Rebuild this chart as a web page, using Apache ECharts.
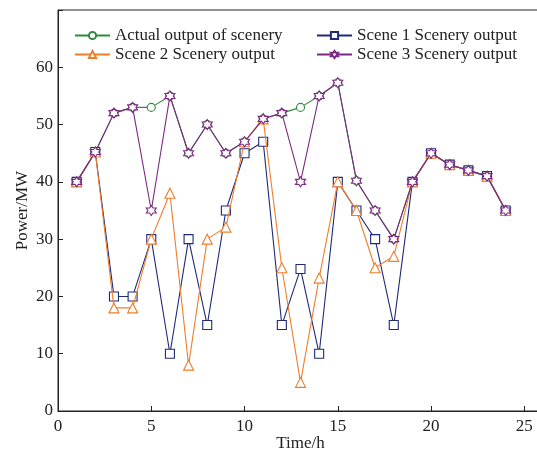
<!DOCTYPE html>
<html><head><meta charset="utf-8">
<script src="https://cdn.jsdelivr.net/npm/echarts@6/dist/echarts.min.js"></script>
<style>html,body{margin:0;padding:0;background:#fff}#c{width:537px;height:449px}</style>
</head><body><div id="c"></div>
<script>
const hours = [1,2,3,4,5,6,7,8,9,10,11,12,13,14,15,16,17,18,19,20,21,22,23,24];
const actual = [40,45.2,52,53,53,55,45,50,45,47,51,52,53,55,57.3,40.2,35,30,40,45,43,42,41,35];
const scene1 = [40,45.2,20,20,30,10,30,15,35,45,47,15,24.8,10,40,35,30,15,40,45,43,42,41,35];
const scene2 = [40,45.2,18,18,30,38,8,30,32.1,47,51,25,5,23.2,40,35,25,27,40,45,43,42,41,35];
const scene3 = [40,45.2,52,53,35,55,45,50,45,47,51,52,40,55,57.3,40.2,35,30,40,45,43,42,41,35];
const names = ['Actual output of scenery','Scene 1 Scenery output','Scene 2 Scenery output','Scene 3 Scenery output'];
const xTicks = [0,5,10,15,20,25];
const yTicks = [0,10,20,30,40,50,60];

const hexagram = 'path://M50,0L64.4,25L93.3,25L78.9,50L93.3,75L64.4,75L50,100L35.6,75L6.7,75L21.1,50L6.7,25L35.6,25Z';
const font = 'Liberation Serif';
function pairs(v){return hours.map((h,i)=>[h,v[i]]);}
function mk(name,data,color,symbol,size,z){
  return {name, type:'line', data:pairs(data), symbol, symbolSize:size, z,
    lineStyle:{color,width:1.1}, itemStyle:{color:'#fff',borderColor:color,borderWidth:1.1},
    color, emphasis:{disabled:true}, animation:false};
}
const chart = echarts.init(document.getElementById('c'));
chart.setOption({
  animation:false,
  backgroundColor:'#fff',
  grid:{left:58,top:10,width:485,height:401,show:true,borderColor:'#222',borderWidth:1,backgroundColor:'transparent',
    containLabel:false,outerBoundsMode:'none'},
  legend:[
    {data:[names[0],names[2]],orient:'vertical',left:74,top:27,padding:0,itemWidth:35,itemHeight:9,itemGap:2,
     textStyle:{fontFamily:font,fontSize:17,color:'#222'}},
    {data:[names[1],names[3]],orient:'vertical',left:316,top:27,padding:0,itemWidth:35,itemHeight:9,itemGap:2,
     textStyle:{fontFamily:font,fontSize:17,color:'#222'}}
  ],
  xAxis:{type:'value',min:0,max:26,interval:5,
    name:'Time/h',nameLocation:'middle',nameGap:24,nameMoveOverlap:false,
    nameTextStyle:{fontFamily:font,fontSize:17,color:'#222'},
    axisLine:{show:true,lineStyle:{color:'#222'}},
    axisTick:{show:true,inside:true,length:5,lineStyle:{color:'#222'}},
    axisLabel:{fontFamily:font,fontSize:17,color:'#222',margin:7,
      formatter:v=>xTicks.includes(v)?String(v):''},
    splitLine:{show:false}},
  yAxis:{type:'value',min:0,max:70,interval:10,
    name:'Power/MW',nameLocation:'middle',nameGap:27,nameMoveOverlap:false,
    nameTextStyle:{fontFamily:font,fontSize:17,color:'#222'},
    axisLine:{show:true,lineStyle:{color:'#222'}},
    axisTick:{show:true,inside:true,length:5,lineStyle:{color:'#222'}},
    axisLabel:{fontFamily:font,fontSize:17,color:'#222',margin:5,
      formatter:v=>yTicks.includes(v)?String(v):''},
    splitLine:{show:false}},
  series:[
    mk(names[0],actual,'#2e8b3e','circle',8,2),
    mk(names[1],scene1,'#1f2a78','rect',9,3),
    mk(names[2],scene2,'#f07d2a','triangle',10,4),
    mk(names[3],scene3,'#7b2a82',hexagram,10,5)
  ]
});
</script></body></html>
